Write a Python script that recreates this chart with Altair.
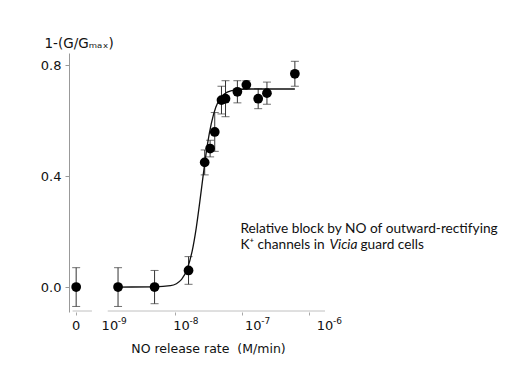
import altair as alt
import pandas as pd
import numpy as np

# NO release rate (M/min); 0 is the control on the broken part of the axis
rate = [0, 1.3e-9, 4.2e-9, 1.25e-8, 2.1e-8, 2.5e-8, 2.9e-8, 3.6e-8, 4.1e-8,
        6.0e-8, 8.0e-8, 1.17e-7, 1.55e-7, 3.8e-7]
block = [0.0, 0.0, 0.0, 0.06, 0.45, 0.50, 0.56, 0.675, 0.68,
         0.705, 0.73, 0.68, 0.70, 0.77]
err = [0.07, 0.07, 0.06, 0.05, 0.045, 0.03, 0.07, 0.05, 0.065,
       0.04, 0.015, 0.036, 0.04, 0.045]

# fitted curve
curve_rate = [1.3e-9, 4.2e-9, 7e-9, 1.0e-8, 1.2e-8, 1.4e-8, 1.6e-8, 1.8e-8,
              2.0e-8, 2.3e-8, 2.6e-8, 3.0e-8, 3.5e-8, 4.0e-8, 5.0e-8,
              6.0e-8, 8.0e-8, 1.2e-7, 3.8e-7]
curve_block = [0.0, 0.001, 0.005, 0.028, 0.066, 0.128, 0.213, 0.31,
               0.403, 0.517, 0.591, 0.649, 0.683, 0.698, 0.709,
               0.713, 0.715, 0.715, 0.715]

# x tick labels of the broken log axis (base and superscript exponent)
x_tick_rates = [0, 1e-9, 1e-8, 1e-7, 1e-6]
x_tick_base = ["0", "10", "10", "10", "10"]
x_tick_exp = ["", "-9", "-8", "-7", "-6"]

ZERO_POS = -9.47  # where "0" sits on the broken axis (log10 units)

def pos(r):
    return ZERO_POS if r == 0 else float(np.log10(r))

pts = pd.DataFrame({"x": [pos(r) for r in rate], "y": block,
                    "lo": [b - e for b, e in zip(block, err)],
                    "hi": [b + e for b, e in zip(block, err)]})
crv = pd.DataFrame({"x": [pos(r) for r in curve_rate], "y": curve_block})
lbl = pd.DataFrame({"x": [pos(r) for r in x_tick_rates], "b": x_tick_base,
                    "e": x_tick_exp})

tick_vals = [ZERO_POS]
for d in [-9, -8, -7]:
    for m in range(1, 10):
        tick_vals.append(round(d + float(np.log10(m)), 4))
tick_vals.append(-6.0)

FONT = "DejaVu Sans"
xs = alt.Scale(domain=[-9.57, -6.0], nice=False, zero=False)
ys = alt.Scale(domain=[-0.09, 0.845], nice=False, zero=False)

X = alt.X("x:Q", scale=xs,
          axis=alt.Axis(values=tick_vals, labels=False, domain=False,
                        grid=False, tickSize=3, tickColor="#a8a8a8",
                        title="NO release rate\u00a0 (M/min)", titleFont=FONT,
                        titleFontSize=12.5, titleFontWeight="normal",
                        titleColor="#111", titlePadding=27, titleX=139))
Y = alt.Y("y:Q", scale=ys,
          axis=alt.Axis(values=[0.0, 0.4, 0.8], format=".1f", grid=False,
                        domainColor="#999", tickColor="#999", tickSize=4,
                        labelFont=FONT, labelFontSize=13, labelColor="#111",
                        labelPadding=4,
                        title="1-(G/Gₘₐₓ)", titleAngle=0, titleAlign="left",
                        titleBaseline="middle", titleX=-25, titleY=-10,
                        titleFont=FONT, titleFontSize=13.5,
                        titleFontWeight="normal", titleColor="#111"))

seg = pd.DataFrame({"x": [-9.52, -9.03], "x2": [-9.25, -6.0]})
axis_segs = alt.Chart(seg).mark_rule(color="#c0c0c0", strokeWidth=1).encode(
    x=alt.X("x:Q", scale=xs), x2="x2:Q", y=alt.value(258))

xlabels = alt.Chart(lbl).mark_text(font=FONT, fontSize=13, color="#111",
                                   baseline="middle", align="center").encode(
    x=alt.X("x:Q", scale=xs), y=alt.value(273), text="b:N")
xexps = alt.Chart(lbl).mark_text(font=FONT, fontSize=9, color="#111",
                                 baseline="middle", align="left",
                                 dx=8, dy=-5).encode(
    x=alt.X("x:Q", scale=xs), y=alt.value(273), text="e:N")

bars = alt.Chart(pts).mark_rule(color="#333", strokeWidth=1).encode(
    x=X, y=alt.Y("lo:Q", scale=ys), y2="hi:Q")
cap_lo = alt.Chart(pts).mark_tick(orient="horizontal", size=8, thickness=1,
                                  color="#333").encode(
    x=alt.X("x:Q", scale=xs), y=alt.Y("lo:Q", scale=ys))
cap_hi = alt.Chart(pts).mark_tick(orient="horizontal", size=8, thickness=1,
                                  color="#333").encode(
    x=alt.X("x:Q", scale=xs), y=alt.Y("hi:Q", scale=ys))
line = alt.Chart(crv).mark_line(color="#111", strokeWidth=1.3,
                                interpolate="monotone").encode(
    x=alt.X("x:Q", scale=xs), y=Y)
dots = alt.Chart(pts).mark_circle(size=95, color="black", opacity=1).encode(
    x=alt.X("x:Q", scale=xs), y=alt.Y("y:Q", scale=ys))

note = pd.DataFrame({"x": [-7.18, -7.18, -7.18, -7.18],
                     "y": [0.21, 0.152, 0.152, 0.152],
                     "t": ["Relative block by NO of outward-rectifying",
                           "K⁺ channels in", "Vicia", "guard cells"],
                     "dx": [0, 0, 89, 120],
                     "st": ["normal", "normal", "italic", "normal"]})
txt = []
for i in range(len(note)):
    txt.append(alt.Chart(note.iloc[[i]]).mark_text(
        align="left", baseline="middle", font="Lato", fontSize=13.7,
        color="#111", dx=int(note.dx[i]), fontStyle=note.st[i]).encode(
        x=alt.X("x:Q", scale=xs), y=alt.Y("y:Q", scale=ys), text="t:N"))

chart = alt.layer(axis_segs, bars, cap_lo, cap_hi, line, dots, xlabels,
                  xexps, *txt).properties(
    width=256, height=259,
    background="white",
    autosize=alt.AutoSizeParams(type="none"),
    padding={"left": 61, "top": 45, "right": 176, "bottom": 60},
).configure_view(stroke=None)

chart.save("out.html", embed_options={"renderer": "svg", "actions": False})
